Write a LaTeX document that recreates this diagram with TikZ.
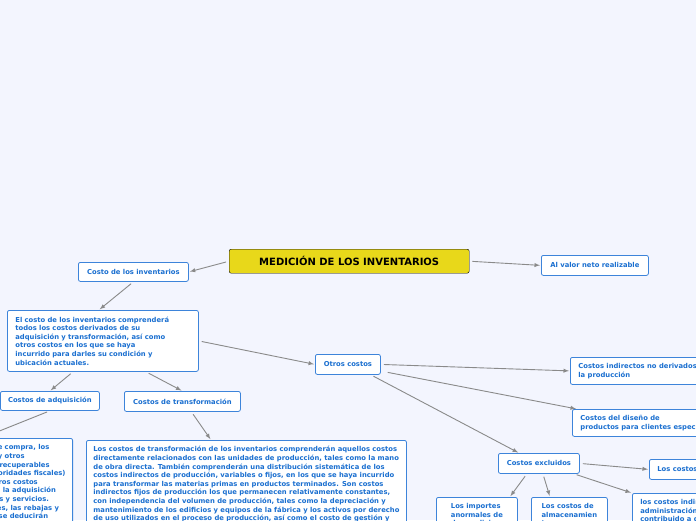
\documentclass[tikz,border=0pt]{standalone}
\usepackage{fontspec}
\setmainfont{DejaVu Sans}
\definecolor{bgcol}{HTML}{F3F5FE}
\definecolor{txtblue}{HTML}{1A6FD0}
\definecolor{boxline}{HTML}{3D84DA}
\definecolor{titleyel}{HTML}{E8D81A}
\definecolor{arrgray}{HTML}{8A8A8A}
\tikzset{
  topic/.style={draw=boxline,line width=0.8pt,fill=white,rounded corners=2pt,
    anchor=north west,inner sep=0pt,text=txtblue,font=\bfseries\fontsize{6.8}{8.6}\selectfont,
    align=left},
  link/.style={draw=arrgray,line width=0.9pt,-latex,shorten >=1pt,shorten <=3pt}
}
\begin{document}
\begin{tikzpicture}[x=1pt,y=-1pt]
  \useasboundingbox[fill=bgcol] (0,0) rectangle (696,520);
  \begin{scope}
  \clip (0,0) rectangle (696,520);
  % central topic
  \node[draw=black,fill=titleyel,rounded corners=2pt,anchor=north west,inner sep=0pt,
    minimum width=240pt,minimum height=24pt,font=\bfseries\fontsize{10}{11}\selectfont]
    (titulo) at (229,249) {MEDICIÓN DE LOS INVENTARIOS};
  \node[topic,minimum width=110pt,minimum height=19pt,align=center] (costoinv) at (78,262) {Costo de los inventarios};
  \node[topic,minimum width=107pt,minimum height=20pt,align=center] (valorneto) at (541,255) {Al valor neto realizable};
  \node[topic,minimum width=191pt,minimum height=61pt,inner xsep=8pt,text width=175pt] (comprende) at (7,310)
    {El costo de los inventarios comprenderá\\todos los costos derivados de su\\adquisición y transformación, así como\\otros costos en los que se haya\\incurrido para darles su condición y\\ubicación actuales.};
  \node[topic,minimum width=65pt,minimum height=20pt,align=center] (otros) at (315,354) {Otros costos};
  \node[topic,minimum width=99pt,minimum height=19pt,align=center] (adquisicion) at (0,391) {Costos de adquisición};
  \node[topic,minimum width=116pt,minimum height=20pt,align=center] (transformacion) at (124,391) {Costos de transformación};
  \node[topic,anchor=north east,inner xsep=7pt,inner ysep=6pt] (adqtexto) at (73,438)
    {Comprenderán el precio de compra, los\\aranceles de importación y otros\\e impuestos (que no sean recuperables\\posteriormente de las autoridades fiscales)\\el transporte, manejo y otros costos\\directamente atribuibles a la adquisición\\de mercaderías, materiales y servicios.\\Los descuentos comerciales, las rebajas y\\y otras partidas similares se deducirán\\para determinar el costo de adquisición.};
  \node[topic,inner xsep=7pt,inner ysep=6pt] (transftexto) at (86,440)
    {Los costos de transformación de los inventarios comprenderán aquellos costos\\
     directamente relacionados con las unidades de producción, tales como la mano\\
     de obra directa. También comprenderán una distribución sistemática de los\\
     costos indirectos de producción, variables o fijos, en los que se haya incurrido\\
     para transformar las materias primas en productos terminados. Son costos\\
     indirectos fijos de producción los que permanecen relativamente constantes,\\
     con independencia del volumen de producción, tales como la depreciación y\\
     mantenimiento de los edificios y equipos de la fábrica y los activos por derecho\\
     de uso utilizados en el proceso de producción, así como el costo de gestión y\\
     administración de la planta.};
  \node[topic,minimum width=140pt,minimum height=27pt,inner xsep=8pt] (noderivados) at (570,357)
    {Costos indirectos no derivados de\\la producción};
  \node[topic,minimum width=140pt,minimum height=27pt,inner xsep=8pt] (diseno) at (572,409)
    {Costos del diseño de\\productos para clientes específicos};
  \node[topic,minimum width=81pt,minimum height=20pt,align=center] (excluidos) at (498,453) {Costos excluidos};
  \node[topic,minimum width=80pt,minimum height=20pt,inner xsep=8pt] (loscostos) at (649,459) {Los costos de venta};
  \node[topic,minimum width=81pt,inner xsep=8pt,inner ysep=6pt] (importes) at (436,497)
    {Los importes\\anormales de\\desperdicio};
  \node[topic,minimum width=76pt,inner xsep=8pt,inner ysep=6pt] (almacen) at (531,497)
    {Los costos de\\almacenamien\\to};
  \node[topic,minimum width=100pt,inner xsep=8pt,inner ysep=6pt] (admin) at (632,493)
    {los costos indirectos de\\administración que no hayan\\contribuido a dar};
  % connectors
  \draw[link] (titulo.west) -- (costoinv.east);
  \draw[link] (titulo.east) -- (valorneto.west);
  \draw[link] (costoinv.south) -- ([xshift=-4pt]comprende.north);
  \draw[link] (comprende.east) -- (otros.west);
  \draw[link] (comprende.south west)++(66,0) -- (adquisicion.north);
  \draw[link] (comprende.south west)++(139,0) -- (transformacion.north);
  \draw[link] (adquisicion.south) -- (adqtexto.north);
  \draw[link] (transformacion.south)++(9,0) -- (transftexto.north west -| 211,0);
  \draw[link] (otros.east) -- (noderivados.west);
  \draw[link] (otros.south east)++(4,-3) -- ([xshift=5pt]diseno.north west);
  \draw[link] (otros.south east)++(-10,0) -- ([xshift=21pt]excluidos.north west);
  \draw[link] (excluidos.east) -- (loscostos.west);
  \draw[link] (excluidos.south)++(-12,0) -- ([xshift=-8pt]importes.north east);
  \draw[link] (excluidos.south)++(4,0) -- ([xshift=19pt]almacen.north west);
  \draw[link] (excluidos.south east)++(-6,0) -- (admin.north west);
  \end{scope}
\end{tikzpicture}
\end{document}
